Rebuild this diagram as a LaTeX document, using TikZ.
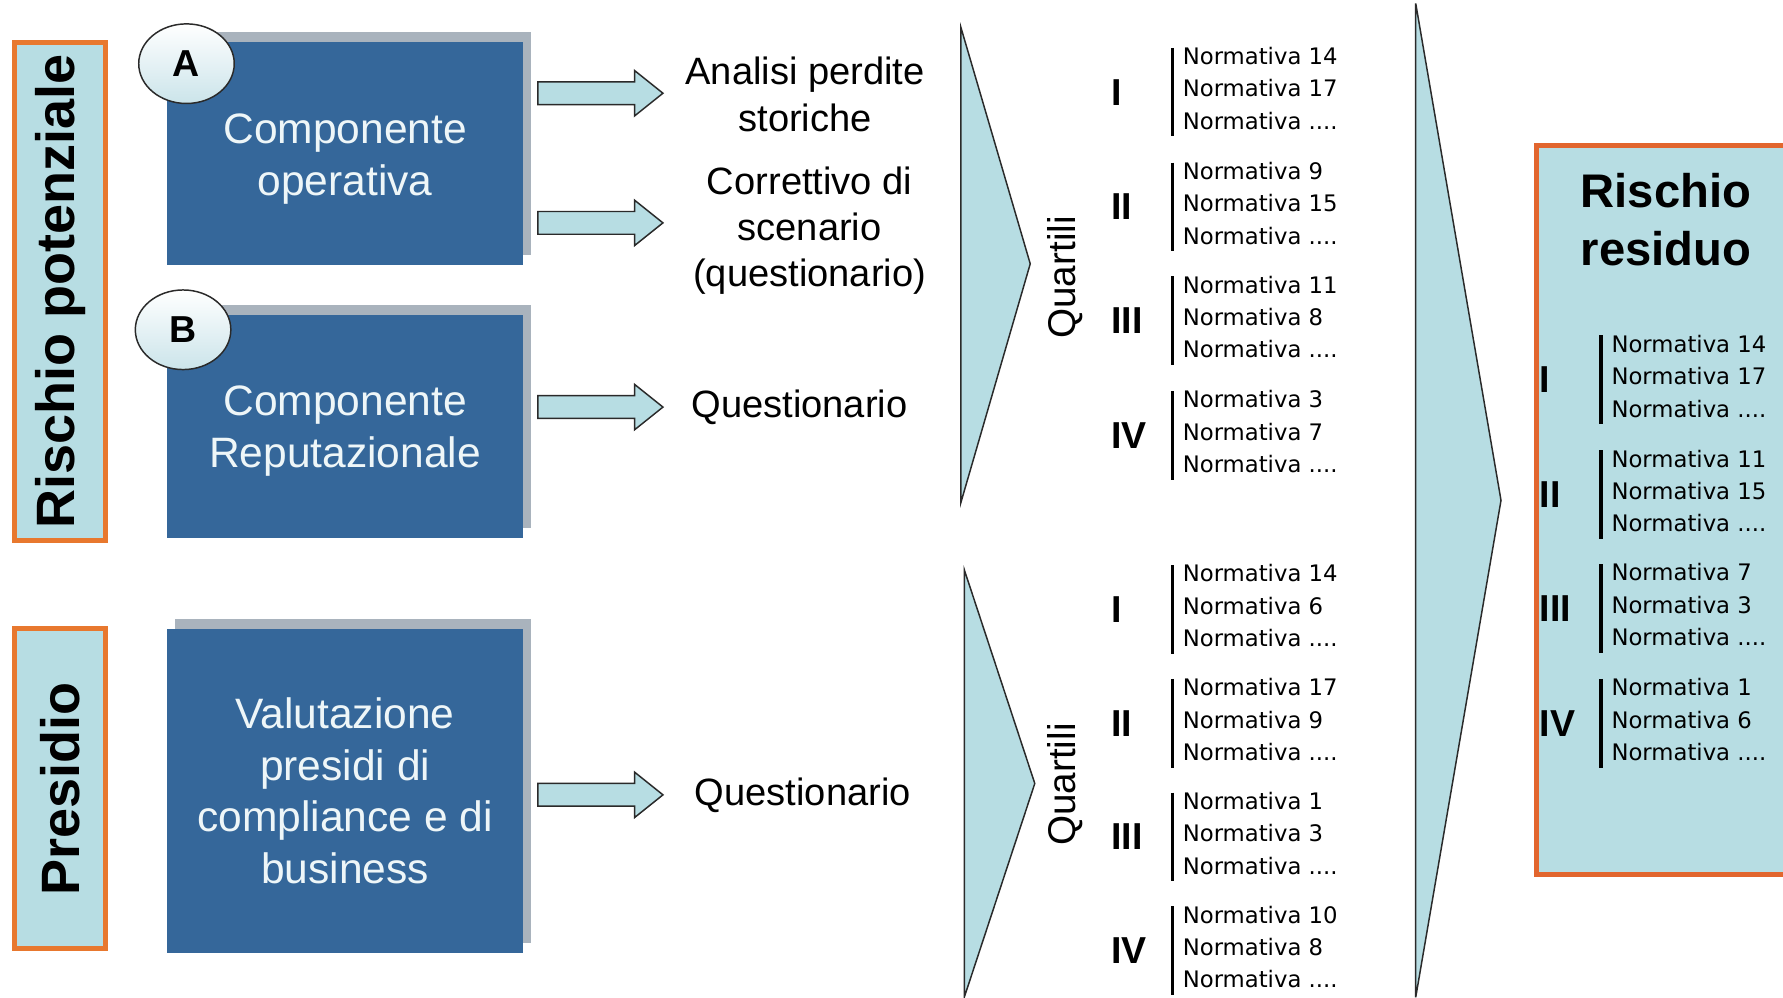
\documentclass[tikz,border=0pt]{standalone}
\usepackage{fontspec}
\setmainfont{Liberation Sans}
\newfontfamily\listfont{DejaVu Sans}
\usetikzlibrary{shapes.geometric,shadows}

\definecolor{boxblue}{HTML}{35679A}
\definecolor{boxtext}{HTML}{EEF6F8}
\definecolor{shadowgrey}{HTML}{A9B3BD}
\definecolor{paleblue}{HTML}{B7DDE3}
\definecolor{framorange}{HTML}{E8782E}
\definecolor{framred}{HTML}{E2662E}
\definecolor{outline}{HTML}{2A2A2A}
\definecolor{badgefill}{HTML}{CBE4EA}

% one quartile group: name, numeral x, bar x, middle-line y, numeral, first two entries
\newcommand{\qgroup}[7]{%
  \node[numeral] (#1-n) at (#2, #4+3) {#5};
  \draw[listbar] (#3, #4-36) -- (#3, #4+42);
  \node[normline] (#1-a) at (#3+9, #4-28.5) {Normativa #6};
  \node[normline] (#1-b) at (#3+9, #4) {Normativa #7};
  \node[normline] (#1-c) at (#3+9, #4+28.5) {Normativa ....};
}

\tikzset{
  bluebox/.style={fill=boxblue, inner sep=0pt, minimum width=313pt,
    general shadow={fill=shadowgrey, shadow xshift=7pt, shadow yshift=9pt}},
  boxlabel/.style={text=boxtext, align=center, inner sep=0pt,
    font=\fontsize{37.4}{45.5}\selectfont},
  badge/.style={ellipse, draw=outline, line width=1.3pt, top color=white,
    bottom color=badgefill, minimum width=84pt, minimum height=70pt, inner sep=0pt,
    font=\bfseries\fontsize{33}{33}\selectfont},
  sidebox/.style={fill=paleblue, draw=framorange, line width=4.5pt, inner sep=0pt,
    font=\bfseries\fontsize{47.5}{47.5}\selectfont},
  lab/.style={align=center, inner sep=0pt, font=\fontsize{33.5}{40.5}\selectfont},
  chevron/.style={fill=paleblue, draw=outline, line width=1.3pt, line join=miter},
  blockarrow/.style={fill=paleblue, draw=outline, line width=1.3pt, line join=miter},
  numeral/.style={anchor=west, inner sep=0pt, font=\bfseries\fontsize{33}{33}\selectfont},
  normline/.style={anchor=west, inner sep=0pt, text height=14.5pt, text depth=0pt,
    font=\listfont\fontsize{20}{24}\selectfont},
  listbar/.style={line width=3pt, black},
  quart/.style={rotate=90, inner sep=0pt, font=\fontsize{34}{34}\selectfont},
  pics/barrow/.style={code={
    \draw[blockarrow] (0,-10) -- (85,-10) -- (85,-20) -- (110,0) -- (85,20)
      -- (85,10) -- (0,10) -- cycle;}}
}

\begin{document}
\begin{tikzpicture}[x=1pt, y=-1pt]
\useasboundingbox (0,0) rectangle (1568,877);
\clip (0,0) rectangle (1568,877);
\fill[white] (0,0) rectangle (1568,877);

% side labels
\node[sidebox, rotate=90, minimum width=438pt, minimum height=80pt] (potenziale) at (53,256) {Rischio potenziale};
\node[sidebox, rotate=90, minimum width=281pt, minimum height=80pt] (presidio) at (53,693.5) {Presidio};

% input components
\node[bluebox, minimum height=196pt] (compA) at (303.5,135) {};
\node[bluebox, minimum height=196pt] (compB) at (303.5,375) {};
\node[bluebox, minimum height=285pt] (compC) at (303.5,695.5) {};
\node[boxlabel] (compAt) at (303.5,140) {Componente\\operativa};
\node[boxlabel] (compBt) at (303.5,379) {Componente\\Reputazionale};
\node[boxlabel] (compCt) at (303.5,695.5) {Valutazione\\presidi di\\compliance e di\\business};
\node[badge] (badgeA) at (164,56) {A};
\node[badge] (badgeB) at (161,290) {B};

% block arrows
\pic (arr1) at (473,82) {barrow};
\pic (arr2) at (473,196) {barrow};
\pic (arr3) at (473,358) {barrow};
\pic (arr4) at (473,699) {barrow};

% methods
\node[lab] (perdite) at (708,83) {Analisi perdite\\storiche};
\node[lab] (correttivo) at (712,203) {Correttivo di\\scenario\\(questionario)};
\node[lab] (quest1) at (703,358) {Questionario};
\node[lab] (quest2) at (706,699) {Questionario};

% chevrons
\draw[chevron] (845,24) -- (906,232) -- (845,442) -- cycle;
\draw[chevron] (848,501) -- (910,689) -- (848,877) -- cycle;
\draw[chevron] (1245,3) -- (1320,440) -- (1245,877) -- cycle;

\node[quart] (quartA) at (937,244) {Quartili};
\node[quart] (quartB) at (937,690) {Quartili};

% potential risk quartiles
\qgroup{pa}{977}{1031}{78}{I}{14}{17}
\qgroup{pb}{977}{1031}{179}{II}{9}{15}
\qgroup{pc}{977}{1031}{279}{III}{11}{8}
\qgroup{pd}{977}{1031}{380}{IV}{3}{7}

% control quartiles
\qgroup{ca}{977}{1031}{533}{I}{14}{6}
\qgroup{cb}{977}{1031}{633}{II}{17}{9}
\qgroup{cc}{977}{1031}{733}{III}{1}{3}
\qgroup{cd}{977}{1031}{833}{IV}{10}{8}

% residual risk
\node[sidebox, draw=framred, anchor=north west, minimum width=260pt, minimum height=641pt] (residuo) at (1349,126) {};
\node[align=center, inner sep=0pt, font=\bfseries\fontsize{41.5}{51}\selectfont] (residuoT) at (1465,193) {Rischio\\residuo};
\qgroup{ra}{1354}{1408}{331}{I}{14}{17}
\qgroup{rb}{1354}{1408}{432}{II}{11}{15}
\qgroup{rc}{1354}{1408}{532}{III}{7}{3}
\qgroup{rd}{1354}{1408}{633}{IV}{1}{6}
\end{tikzpicture}
\end{document}
